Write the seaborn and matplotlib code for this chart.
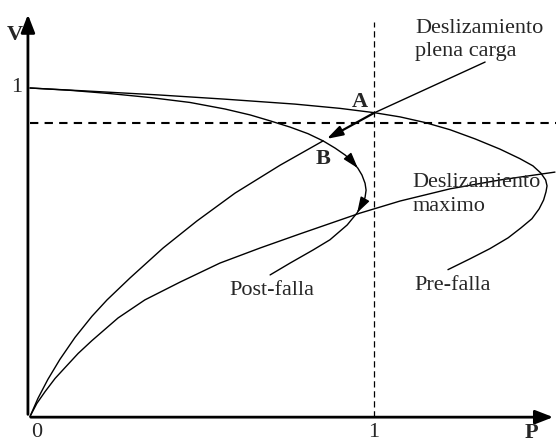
import numpy as np
import pandas as pd
import matplotlib
matplotlib.use("Agg")
import matplotlib.pyplot as plt
import seaborn as sns

# curvas P-V (P y V en p.u.)
pre_p = [0.0, 0.180, 0.372, 0.567, 0.770, 0.901, 1.0, 1.076, 1.148, 1.221, 1.294, 1.366,
         1.424, 1.462, 1.485, 1.499, 1.503, 1.500, 1.493, 1.480, 1.459, 1.427, 1.390,
         1.337, 1.279, 1.215]
pre_v = [1.0, 0.990, 0.979, 0.966, 0.951, 0.938, 0.925, 0.912, 0.895, 0.873, 0.845, 0.814,
         0.785, 0.763, 0.741, 0.720, 0.702, 0.684, 0.659, 0.632, 0.602, 0.574, 0.544,
         0.511, 0.480, 0.447]

post_p = [0.0, 0.116, 0.233, 0.349, 0.465, 0.567, 0.640, 0.698, 0.756, 0.808, 0.852, 0.887,
          0.916, 0.936, 0.953, 0.965, 0.974, 0.977, 0.974, 0.965, 0.951, 0.922, 0.872,
          0.823, 0.756, 0.698]
post_v = [1.0, 0.993, 0.983, 0.971, 0.956, 0.936, 0.918, 0.900, 0.881, 0.861, 0.839, 0.817,
          0.796, 0.777, 0.756, 0.735, 0.710, 0.689, 0.667, 0.646, 0.620, 0.583, 0.538,
          0.507, 0.467, 0.431]

# caracteristicas de carga
plena_p = [0.0, 0.023, 0.052, 0.087, 0.131, 0.180, 0.224, 0.291, 0.387, 0.485, 0.596,
           0.727, 0.852, 1.0]
plena_v = [0.0, 0.055, 0.113, 0.174, 0.241, 0.305, 0.355, 0.422, 0.513, 0.595, 0.680,
           0.765, 0.839, 0.924]

max_p = [0.0, 0.020, 0.044, 0.073, 0.102, 0.140, 0.180, 0.256, 0.334, 0.436, 0.552, 0.669,
         0.785, 0.901, 0.959, 1.076, 1.221, 1.366, 1.526]
max_v = [0.0, 0.040, 0.076, 0.116, 0.149, 0.192, 0.231, 0.300, 0.355, 0.409, 0.467, 0.513,
         0.556, 0.598, 0.619, 0.656, 0.693, 0.720, 0.744]

v_ref = 0.8935   # linea horizontal punteada
p_ref = 1.0      # linea vertical punteada

sns.set_theme(style="white")
plt.rcParams['font.family'] = ['Liberation Serif', 'DejaVu Serif']

df = pd.concat([
    pd.DataFrame({"P": pre_p, "V": pre_v, "curva": "pre"}),
    pd.DataFrame({"P": post_p, "V": post_v, "curva": "post"}),
    pd.DataFrame({"P": plena_p[:-1], "V": plena_v[:-1], "curva": "plena"}),
    pd.DataFrame({"P": max_p, "V": max_v, "curva": "max"}),
])

fig = plt.figure(figsize=(5.56, 4.42), dpi=100)
ax = fig.add_axes([0, 0, 1, 1])
ax.set_xlim(-30 / 344, 526 / 344)
ax.set_ylim(-25.5 / 328.5, 416.5 / 328.5)
ax.axis("off")

sns.lineplot(data=df, x="P", y="V", hue="curva", units="curva", estimator=None, sort=False,
             palette=["black"] * 4, legend=False, lw=1.0, ax=ax)
for ln in ax.lines:
    ln.set_solid_joinstyle("round")

# ejes con flechas
ax.annotate("", xy=(-0.006, 1.232), xytext=(-0.006, -0.002),
            arrowprops=dict(arrowstyle="-|>,head_length=0.9,head_width=0.35", color="black", lw=2))
ax.annotate("", xy=(1.529, -0.002), xytext=(-0.006, -0.002),
            arrowprops=dict(arrowstyle="-|>,head_length=0.9,head_width=0.35", color="black", lw=2))

# lineas punteadas
ax.plot([p_ref, p_ref], [0, 1.20], color="black", lw=0.9, ls=(0, (5, 3)))
ax.plot([0, 1.529], [v_ref, v_ref], color="black", lw=1.5, ls=(0, (4, 3)))

# flecha A -> B
ax.annotate("", xy=(plena_p[-2], plena_v[-2]), xytext=(plena_p[-1], plena_v[-1]),
            arrowprops=dict(arrowstyle="-|>,head_length=0.8,head_width=0.25", color="black",
                            lw=1.6, shrinkA=0, shrinkB=3))
# guia etiqueta plena carga
ax.plot([plena_p[-1], 1.323], [plena_v[-1], 1.079], color="black", lw=1.0)

# flechas en curva post-falla
for i in (14, 20):
    ax.annotate("", xy=(post_p[i], post_v[i]), xytext=(post_p[i - 1], post_v[i - 1]),
                arrowprops=dict(arrowstyle="-|>,head_length=0.8,head_width=0.25", color="black",
                                lw=1.0, shrinkA=0, shrinkB=0))

fs = 16
ax.text(-0.045, 1.160, "V", fontsize=fs, fontweight="bold", ha="center", va="center")
ax.text(-0.038, 1.000, "1", fontsize=fs, ha="center", va="center")
ax.text(0.02, -0.05, "0", fontsize=fs, ha="center", va="center")
ax.text(1.0, -0.05, "1", fontsize=fs, ha="center", va="center")
ax.text(1.457, -0.05, "P", fontsize=fs, fontweight="bold", ha="center", va="center")
ax.text(0.96, 0.958, "A", fontsize=fs, fontweight="bold", ha="center", va="center")
ax.text(0.852, 0.784, "B", fontsize=fs, fontweight="bold", ha="center", va="center")
ax.text(1.119, 1.146, "Deslizamiento\nplena carga", fontsize=fs, ha="left", va="center",
        linespacing=1.3)
ax.text(1.113, 0.676, "Deslizamiento\nmaximo", fontsize=fs, ha="left", va="center",
        linespacing=1.3)
ax.text(0.703, 0.385, "Post-falla", fontsize=fs, ha="center", va="center")
ax.text(1.230, 0.400, "Pre-falla", fontsize=fs, ha="center", va="center")

fig.savefig("out.png", dpi=100)
